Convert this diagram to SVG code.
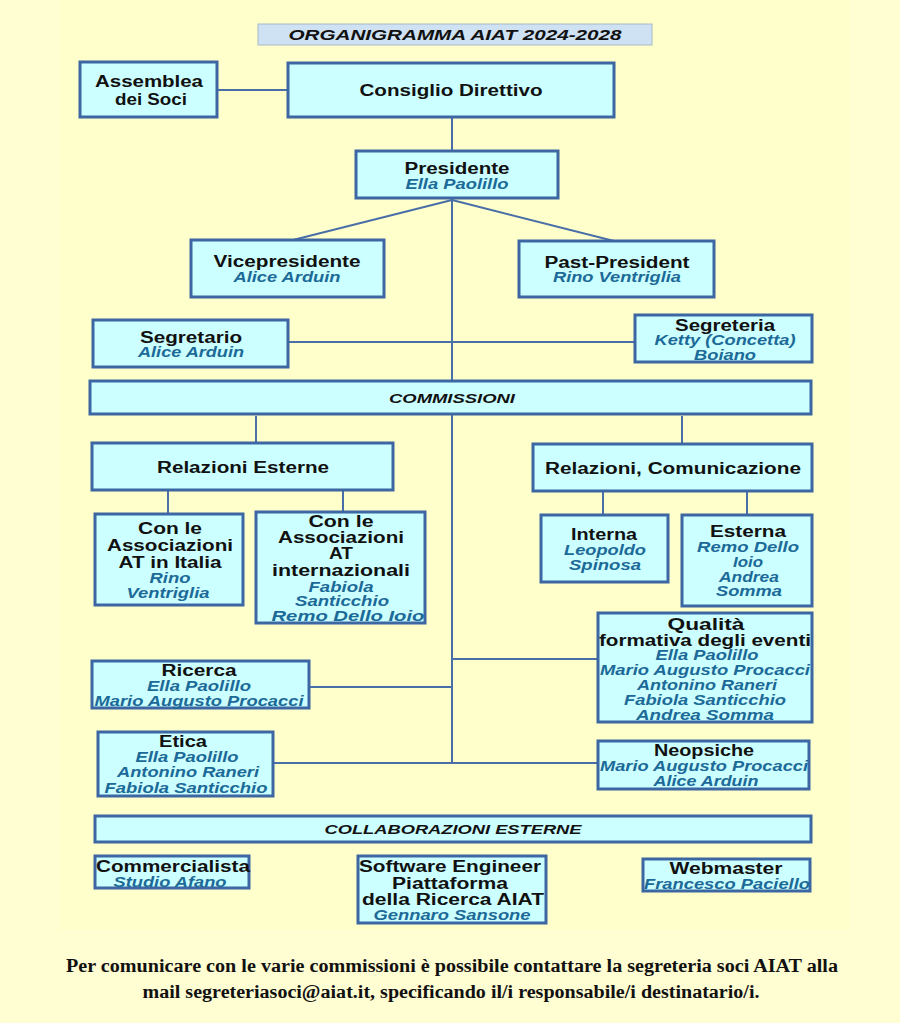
<svg xmlns="http://www.w3.org/2000/svg" width="900" height="1023" viewBox="0 0 900 1023">
<style>
.box{fill:#ccffff;stroke:#3d67a3;stroke-width:3}
.ln{stroke:#4a6fa8;stroke-width:2;fill:none}
.h{font-family:"Liberation Sans",Arial,sans-serif;font-weight:bold;font-size:16px;fill:#111;text-anchor:middle}
.n{font-family:"Liberation Sans",Arial,sans-serif;font-weight:bold;font-style:italic;font-size:14.5px;fill:#1c6a98;text-anchor:middle}
.c{font-family:"Liberation Sans",Arial,sans-serif;font-weight:bold;font-style:italic;font-size:13px;fill:#111;text-anchor:middle}
.f{font-family:"Liberation Serif","Times New Roman",serif;font-weight:bold;font-size:18px;fill:#111;text-anchor:middle}
</style>
<rect x="0" y="0" width="900" height="1023" fill="#fffdd2"/>
<rect x="60" y="0" width="790" height="930" fill="#ffffcb"/>

<g id="title">
<rect x="258" y="24" width="394" height="21" fill="#cfe2f3" stroke="#a8b8c8" stroke-width="1"/>
<text x="455" y="39.5" class="c" style="font-size:15px" textLength="333" lengthAdjust="spacingAndGlyphs">ORGANIGRAMMA AIAT 2024-2028</text>
</g>

<g id="connectors">
<line class="ln" x1="217" y1="90" x2="288" y2="90"/>
<line class="ln" x1="452" y1="117" x2="452" y2="151"/>
<line class="ln" x1="452" y1="199" x2="452" y2="381"/>
<line class="ln" x1="452" y1="200" x2="293" y2="240"/>
<line class="ln" x1="452" y1="200" x2="614" y2="241"/>
<line class="ln" x1="288" y1="342" x2="452" y2="342"/>
<line class="ln" x1="452" y1="342" x2="635" y2="342"/>
<line class="ln" x1="452" y1="414" x2="452" y2="764"/>
<line class="ln" x1="256" y1="416" x2="256" y2="443"/>
<line class="ln" x1="682" y1="416" x2="682" y2="444"/>
<line class="ln" x1="168" y1="490" x2="168" y2="514"/>
<line class="ln" x1="343" y1="490" x2="343" y2="512"/>
<line class="ln" x1="603" y1="491" x2="603" y2="515"/>
<line class="ln" x1="747" y1="491" x2="747" y2="515"/>
<line class="ln" x1="452" y1="659" x2="598" y2="659"/>
<line class="ln" x1="309" y1="687" x2="452" y2="687"/>
<line class="ln" x1="273" y1="763" x2="598" y2="763"/>
</g>

<g id="assemblea">
<rect class="box" x="80" y="62" width="137" height="55"/>
<text class="h" x="149" y="86.5" textLength="108" lengthAdjust="spacingAndGlyphs">Assemblea</text>
<text class="h" x="151" y="104.5" textLength="72" lengthAdjust="spacingAndGlyphs">dei Soci</text>
</g>
<g id="consiglio">
<rect class="box" x="288" y="63" width="326" height="54"/>
<text class="h" x="451" y="95.5" textLength="183" lengthAdjust="spacingAndGlyphs">Consiglio Direttivo</text>
</g>
<g id="presidente">
<rect class="box" x="356" y="151" width="202" height="47"/>
<text class="h" x="457" y="173.5" textLength="105" lengthAdjust="spacingAndGlyphs">Presidente</text>
<text class="n" x="457" y="189" textLength="103" lengthAdjust="spacingAndGlyphs">Ella Paolillo</text>
</g>
<g id="vicepresidente">
<rect class="box" x="191" y="240" width="193" height="57"/>
<text class="h" x="287" y="266.5" textLength="147" lengthAdjust="spacingAndGlyphs">Vicepresidente</text>
<text class="n" x="287" y="282" textLength="107" lengthAdjust="spacingAndGlyphs">Alice Arduin</text>
</g>
<g id="pastpresident">
<rect class="box" x="519" y="241" width="195" height="56"/>
<text class="h" x="617" y="267.5" textLength="145" lengthAdjust="spacingAndGlyphs">Past-President</text>
<text class="n" x="617" y="282" textLength="128" lengthAdjust="spacingAndGlyphs">Rino Ventriglia</text>
</g>
<g id="segretario">
<rect class="box" x="93" y="320" width="195" height="47"/>
<text class="h" x="191" y="342.5" textLength="102" lengthAdjust="spacingAndGlyphs">Segretario</text>
<text class="n" x="191" y="357" textLength="106" lengthAdjust="spacingAndGlyphs">Alice Arduin</text>
</g>
<g id="segreteria">
<rect class="box" x="635" y="315" width="177" height="47"/>
<text class="h" x="725" y="330.5" textLength="100" lengthAdjust="spacingAndGlyphs">Segreteria</text>
<text class="n" x="725" y="345" textLength="141" lengthAdjust="spacingAndGlyphs">Ketty (Concetta)</text>
<text class="n" x="725" y="360" textLength="62" lengthAdjust="spacingAndGlyphs">Boiano</text>
</g>
<g id="commissioni">
<rect class="box" x="90" y="381" width="721" height="33"/>
<text class="c" x="452" y="403" textLength="126" lengthAdjust="spacingAndGlyphs">COMMISSIONI</text>
</g>
<g id="relazioni-esterne">
<rect class="box" x="92" y="443" width="301" height="47"/>
<text class="h" x="243" y="472.5" textLength="172" lengthAdjust="spacingAndGlyphs">Relazioni Esterne</text>
</g>
<g id="relazioni-comunicazione">
<rect class="box" x="533" y="444" width="279" height="47"/>
<text class="h" x="673" y="473.5" textLength="256" lengthAdjust="spacingAndGlyphs">Relazioni, Comunicazione</text>
</g>
<g id="associazioni-italia">
<rect class="box" x="95" y="514" width="148" height="91"/>
<text class="h" x="170" y="533.5" textLength="64" lengthAdjust="spacingAndGlyphs">Con le</text>
<text class="h" x="170" y="550.5" textLength="126" lengthAdjust="spacingAndGlyphs">Associazioni</text>
<text class="h" x="170" y="567.5" textLength="103" lengthAdjust="spacingAndGlyphs">AT in Italia</text>
<text class="n" x="170" y="583" textLength="41" lengthAdjust="spacingAndGlyphs">Rino</text>
<text class="n" x="168" y="598" textLength="83" lengthAdjust="spacingAndGlyphs">Ventriglia</text>
</g>
<g id="associazioni-internazionali">
<rect class="box" x="256" y="512" width="169" height="111"/>
<text class="h" x="341" y="526.5" textLength="65" lengthAdjust="spacingAndGlyphs">Con le</text>
<text class="h" x="341" y="542.5" textLength="126" lengthAdjust="spacingAndGlyphs">Associazioni</text>
<text class="h" x="341" y="558.5" textLength="24" lengthAdjust="spacingAndGlyphs">AT</text>
<text class="h" x="341" y="575.5" textLength="138" lengthAdjust="spacingAndGlyphs">internazionali</text>
<text class="n" x="341" y="592" textLength="65" lengthAdjust="spacingAndGlyphs">Fabiola</text>
<text class="n" x="342" y="606" textLength="94" lengthAdjust="spacingAndGlyphs">Santicchio</text>
<text class="n" x="348" y="621" textLength="153" lengthAdjust="spacingAndGlyphs">Remo Dello Ioio</text>
</g>
<g id="interna">
<rect class="box" x="541" y="515" width="127" height="67"/>
<text class="h" x="604" y="539.5" textLength="66" lengthAdjust="spacingAndGlyphs">Interna</text>
<text class="n" x="605" y="555" textLength="82" lengthAdjust="spacingAndGlyphs">Leopoldo</text>
<text class="n" x="605" y="570" textLength="72" lengthAdjust="spacingAndGlyphs">Spinosa</text>
</g>
<g id="esterna">
<rect class="box" x="682" y="515" width="130" height="91"/>
<text class="h" x="748" y="536.5" textLength="76" lengthAdjust="spacingAndGlyphs">Esterna</text>
<text class="n" x="748" y="552" textLength="102" lengthAdjust="spacingAndGlyphs">Remo Dello</text>
<text class="n" x="748" y="567" textLength="30" lengthAdjust="spacingAndGlyphs">Ioio</text>
<text class="n" x="749" y="582" textLength="60" lengthAdjust="spacingAndGlyphs">Andrea</text>
<text class="n" x="749" y="596" textLength="66" lengthAdjust="spacingAndGlyphs">Somma</text>
</g>
<g id="qualita">
<rect class="box" x="598" y="613" width="214" height="109"/>
<text class="h" x="706" y="629.5" textLength="77" lengthAdjust="spacingAndGlyphs">Qualità</text>
<text class="h" x="705" y="645.5" textLength="212" lengthAdjust="spacingAndGlyphs">formativa degli eventi</text>
<text class="n" x="707" y="660" textLength="103" lengthAdjust="spacingAndGlyphs">Ella Paolillo</text>
<text class="n" x="705" y="675" textLength="210" lengthAdjust="spacingAndGlyphs">Mario Augusto Procacci</text>
<text class="n" x="707" y="690" textLength="140" lengthAdjust="spacingAndGlyphs">Antonino Raneri</text>
<text class="n" x="705" y="705" textLength="162" lengthAdjust="spacingAndGlyphs">Fabiola Santicchio</text>
<text class="n" x="705" y="720" textLength="138" lengthAdjust="spacingAndGlyphs">Andrea Somma</text>
</g>
<g id="ricerca">
<rect class="box" x="92" y="661" width="217" height="47"/>
<text class="h" x="199" y="675.5" textLength="75" lengthAdjust="spacingAndGlyphs">Ricerca</text>
<text class="n" x="199" y="691" textLength="104" lengthAdjust="spacingAndGlyphs">Ella Paolillo</text>
<text class="n" x="199" y="706" textLength="209" lengthAdjust="spacingAndGlyphs">Mario Augusto Procacci</text>
</g>
<g id="etica">
<rect class="box" x="98" y="732" width="175" height="64"/>
<text class="h" x="183" y="746.5" textLength="48" lengthAdjust="spacingAndGlyphs">Etica</text>
<text class="n" x="187" y="762" textLength="103" lengthAdjust="spacingAndGlyphs">Ella Paolillo</text>
<text class="n" x="188" y="777" textLength="142" lengthAdjust="spacingAndGlyphs">Antonino Raneri</text>
<text class="n" x="186" y="793" textLength="163" lengthAdjust="spacingAndGlyphs">Fabiola Santicchio</text>
</g>
<g id="neopsiche">
<rect class="box" x="598" y="741" width="211" height="48"/>
<text class="h" x="704" y="755.5" textLength="100" lengthAdjust="spacingAndGlyphs">Neopsiche</text>
<text class="n" x="704" y="771" textLength="208" lengthAdjust="spacingAndGlyphs">Mario Augusto Procacci</text>
<text class="n" x="706" y="786" textLength="105" lengthAdjust="spacingAndGlyphs">Alice Arduin</text>
</g>
<g id="collaborazioni">
<rect class="box" x="95" y="816" width="716" height="26"/>
<text class="c" x="453" y="834" textLength="257" lengthAdjust="spacingAndGlyphs">COLLABORAZIONI ESTERNE</text>
</g>
<g id="commercialista">
<rect class="box" x="95" y="856" width="154" height="32"/>
<text class="h" x="173" y="871.5" textLength="154" lengthAdjust="spacingAndGlyphs">Commercialista</text>
<text class="n" x="170" y="887" textLength="113" lengthAdjust="spacingAndGlyphs">Studio Afano</text>
</g>
<g id="software-engineer">
<rect class="box" x="358" y="856" width="188" height="67"/>
<text class="h" x="450" y="871.5" textLength="182" lengthAdjust="spacingAndGlyphs">Software Engineer</text>
<text class="h" x="450" y="888.5" textLength="116" lengthAdjust="spacingAndGlyphs">Piattaforma</text>
<text class="h" x="453" y="904.5" textLength="182" lengthAdjust="spacingAndGlyphs">della Ricerca AIAT</text>
<text class="n" x="452" y="920" textLength="157" lengthAdjust="spacingAndGlyphs">Gennaro Sansone</text>
</g>
<g id="webmaster">
<rect class="box" x="643" y="859" width="167" height="32"/>
<text class="h" x="726" y="873.5" textLength="113" lengthAdjust="spacingAndGlyphs">Webmaster</text>
<text class="n" x="727" y="889" textLength="166" lengthAdjust="spacingAndGlyphs">Francesco Paciello</text>
</g>

<g id="footer">
<text class="f" x="452" y="972" textLength="772" lengthAdjust="spacingAndGlyphs">Per comunicare con le varie commissioni è possibile contattare la segreteria soci AIAT alla</text>
<text class="f" x="451" y="998" textLength="617" lengthAdjust="spacingAndGlyphs">mail segreteriasoci@aiat.it, specificando il/i responsabile/i destinatario/i.</text>
</g>
</svg>
